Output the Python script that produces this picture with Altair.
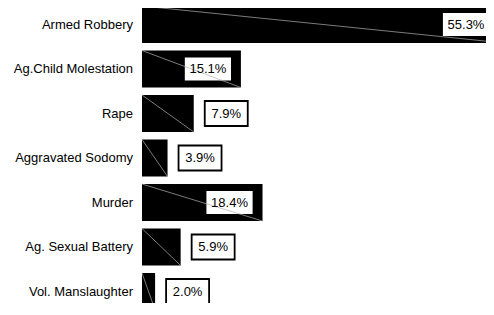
import altair as alt
import pandas as pd

categories = ["Armed Robbery", "Ag.Child Molestation", "Rape", "Aggravated Sodomy",
              "Murder", "Ag. Sexual Battery", "Vol. Manslaughter"]
values = [55.3, 15.1, 7.9, 3.9, 18.4, 5.9, 2.0]
labels = ["55.3%", "15.1%", "7.9%", "3.9%", "18.4%", "5.9%", "2.0%"]

df = pd.DataFrame({"crime": categories, "pct": values, "label": labels})

FONT = "Liberation Sans"
STEP = 44.5                  # px per row
HALF_BAR = 18.5 / STEP       # half bar thickness (row units)
HALF_BOX = 12.5 / STEP       # half label box height (row units)
PLOT_W, PLOT_H = 344, 295
PX_PER_PCT = 6.55
X_MAX = PLOT_W / PX_PER_PCT
LABEL_CAP = X_MAX + 13 / PX_PER_PCT   # keep the in-bar label inside the visible area

base = alt.Chart(df).transform_window(
    rn="row_number()"
).transform_calculate(
    idx="datum.rn - 1",
    x0="0",
    top=f"datum.rn - 1 - {HALF_BAR}",
    bot=f"datum.rn - 1 + {HALF_BAR}",
    btop=f"datum.rn - 1 - {HALF_BOX}",
    bbot=f"datum.rn - 1 + {HALF_BOX}",
    anchor=f"min(datum.pct, {LABEL_CAP})",
)

y_top = -16.5 / STEP
y_bot = y_top + PLOT_H / STEP
x_scale = alt.Scale(domain=[0, X_MAX], nice=False, zero=True)
y_scale = alt.Scale(domain=[y_top, y_bot], reverse=True, nice=False, zero=False)

bars = base.mark_rect(color="black", clip=True).encode(
    x=alt.X("x0:Q", scale=x_scale, axis=None),
    x2=alt.X2("pct"),
    y=alt.Y("top:Q", scale=y_scale, axis=None),
    y2=alt.Y2("bot"),
)

diag = base.mark_rule(color="#b0b0b0", strokeWidth=0.7, clip=True).encode(
    x="x0:Q", x2=alt.X2("pct"), y="top:Q", y2=alt.Y2("bot"))

outside = base.transform_filter("datum.pct < 10")
inside = base.transform_filter("datum.pct >= 10")

box_out = outside.mark_rect(fill="white", stroke="black", strokeWidth=1.8, clip=True,
                            xOffset=11, x2Offset=54).encode(
    x="pct:Q", x2=alt.X2("pct"), y="btop:Q", y2=alt.Y2("bbot"))
text_out = outside.mark_text(dx=32.5, fontSize=13, font=FONT, color="black").encode(
    x="pct:Q", y="idx:Q", text="label:N")

box_in = inside.mark_rect(fill="white", stroke="black", strokeWidth=1.8, clip=True,
                          xOffset=-57, x2Offset=-9).encode(
    x="anchor:Q", x2=alt.X2("anchor"), y="btop:Q", y2=alt.Y2("bbot"))
text_in = inside.mark_text(dx=-33, fontSize=13, font=FONT, color="black").encode(
    x="anchor:Q", y="idx:Q", text="label:N")

cat_labels = base.mark_text(align="right", dx=-9, fontSize=13, font=FONT, color="black").encode(
    x="x0:Q", y="idx:Q", text="crime:N")

chart = alt.layer(bars, box_out, box_in, diag, text_out, text_in, cat_labels).properties(
    width=PLOT_W, height=PLOT_H,
    padding={"left": 5, "top": 0, "right": 0, "bottom": 0}
).configure_view(stroke=None)

chart.save("out.html", embed_options={"renderer": "svg", "actions": False})
